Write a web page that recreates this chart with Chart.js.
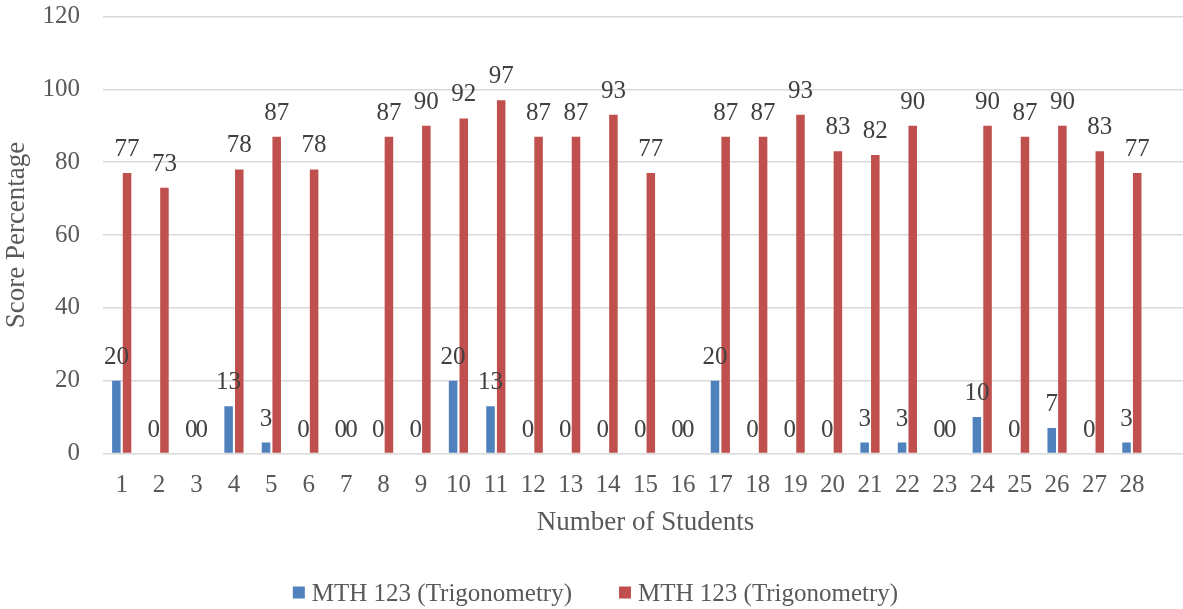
<!DOCTYPE html>
<html><head><meta charset="utf-8">
<script src="https://cdn.jsdelivr.net/npm/chart.js@4/dist/chart.umd.min.js"></script>
<style>html,body{margin:0;padding:0;overflow:hidden;background:#fff}
#wrap{width:1190px;height:609px;position:relative}</style>
</head><body><div id="wrap"><canvas id="c"></canvas></div>
<script>
const categories = ['1','2','3','4','5','6','7','8','9','10','11','12','13','14','15','16','17','18','19','20','21','22','23','24','25','26','27','28'];
const seriesNames = ['MTH 123 (Trigonometry)', 'MTH 123 (Trigonometry)'];
const blueScores = [20,0,0,13,3,0,0,0,0,20,13,0,0,0,0,0,20,0,0,0,3,3,0,10,0,7,0,3];
const redScores  = [77,73,0,78,87,78,0,87,90,92,97,87,87,93,77,0,87,87,93,83,82,90,0,90,87,90,83,77];
const yTickValues = [0,20,40,60,80,100,120];
const xTitle = 'Number of Students';
const yTitle = 'Score Percentage';

const FONT = '"Liberation Serif", serif';
const axisColor = '#595959';

const dataLabels = {
  id: 'dataLabels',
  afterDatasetsDraw(chart) {
    const ctx = chart.ctx;
    ctx.save();
    ctx.font = '25px ' + FONT;
    ctx.fillStyle = '#404040';
    ctx.textAlign = 'center';
    ctx.textBaseline = 'alphabetic';
    chart.data.datasets.forEach((ds, di) => {
      const meta = chart.getDatasetMeta(di);
      meta.data.forEach((el, i) => {
        const v = ds.data[i];
        if (v === null || v === undefined) return;
        ctx.fillText(String(v), el.x, el.y - 17);
      });
    });
    ctx.restore();
  }
};

const customLegend = {
  id: 'customLegend',
  afterDraw(chart) {
    const ctx = chart.ctx;
    ctx.save();
    ctx.font = '25px ' + FONT;
    ctx.textBaseline = 'alphabetic';
    ctx.textAlign = 'left';
    const box = 12, gap = 7, spacing = 47;
    const items = chart.data.datasets.map(d => ({label: d.label, color: d.backgroundColor, w: ctx.measureText(d.label).width}));
    let total = 0;
    items.forEach((it, i) => { total += box + gap + it.w + (i < items.length - 1 ? spacing : 0); });
    let x = chart.width / 2 + 0.5 - total / 2;
    const baseY = 600.5;
    items.forEach(it => {
      ctx.fillStyle = it.color;
      ctx.fillRect(x, 586.5, box, box);
      x += box + gap;
      ctx.fillStyle = axisColor;
      ctx.fillText(it.label, x, baseY);
      x += it.w + spacing;
    });
    ctx.restore();
  }
};

new Chart(document.getElementById('c'), {
  type: 'bar',
  data: {
    labels: categories.concat(['']),
    datasets: [
      { label: seriesNames[0], data: blueScores, backgroundColor: '#4f81bd', categoryPercentage: 0.57, barPercentage: 0.8 },
      { label: seriesNames[1], data: redScores, backgroundColor: '#c0504d', categoryPercentage: 0.57, barPercentage: 0.8 }
    ]
  },
  options: {
    responsive: true,
    maintainAspectRatio: false,
    animation: false,
    devicePixelRatio: 1,
    layout: { padding: { top: 16.5, right: 2, bottom: 70, left: 0 } },
    plugins: { legend: { display: false }, tooltip: { enabled: false } },
    scales: {
      x: {
        grid: { display: false },
        border: { display: false },
        ticks: { color: axisColor, font: { family: FONT, size: 25 }, padding: 9, autoSkip: false, maxRotation: 0 },
        title: { display: true, text: xTitle, color: axisColor, font: { family: FONT, size: 27, lineHeight: 1 }, padding: { top: 0, bottom: 3 } },
        afterFit(s) { s.height = 85.5; s.paddingLeft = 0; s.paddingRight = 0; }
      },
      y: {
        min: 0, max: 120,
        afterBuildTicks(s) { s.ticks = yTickValues.map(v => ({ value: v })); },
        grid: { color: '#d9d9d9', lineWidth: 1.5, drawTicks: false },
        border: { display: false },
        ticks: { color: axisColor, font: { family: FONT, size: 25 }, padding: 23 },
        title: { display: true, text: yTitle, color: axisColor, font: { family: FONT, size: 27, lineHeight: 1 }, padding: { top: 3, bottom: 0 } },
        afterFit(s) { s.width = 103; s.paddingTop = 0; s.paddingBottom = 0; }
      }
    }
  },
  plugins: [dataLabels, customLegend]
});
</script>
</body></html>
